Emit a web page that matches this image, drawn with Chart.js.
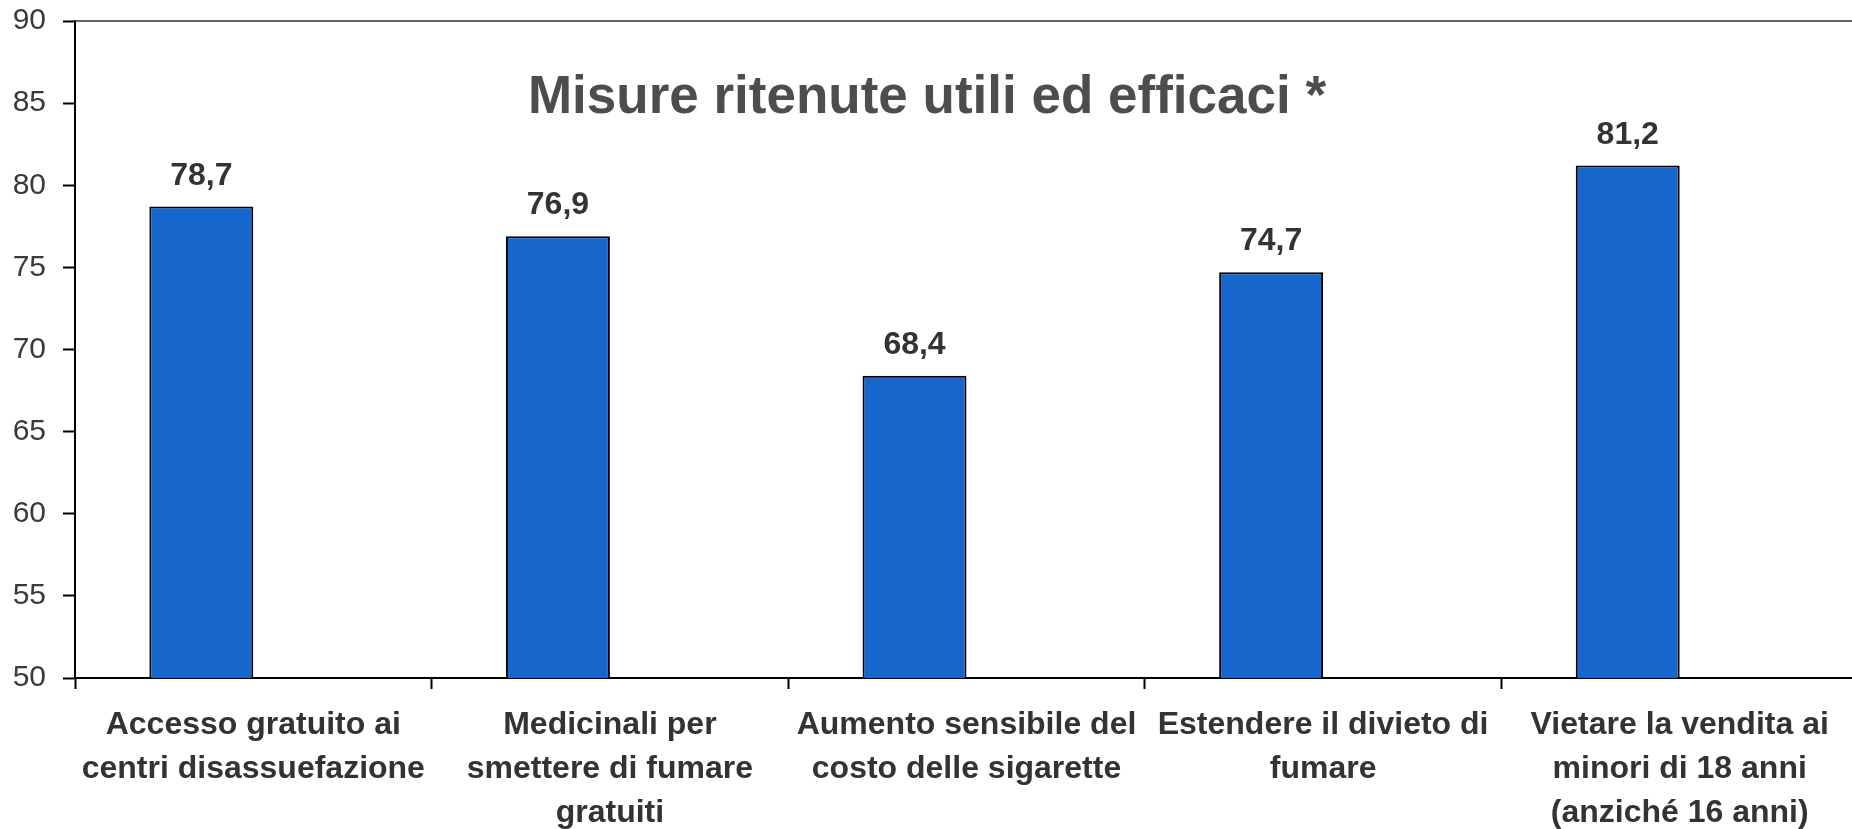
<!DOCTYPE html>
<html lang="it">
<head>
<meta charset="UTF-8">
<title>Misure ritenute utili ed efficaci</title>
<script src="https://cdn.jsdelivr.net/npm/chart.js@4"></script>
<style>
  html, body { margin: 0; padding: 0; background: #fff; overflow: hidden; }
  .wrap { position: relative; width: 1858px; height: 829px; }
</style>
</head>
<body>
<div class="wrap"><canvas id="chart"></canvas></div>
<script>
const chartTitle = 'Misure ritenute utili ed efficaci *';
const categories = [
  ['Accesso gratuito ai', 'centri disassuefazione'],
  ['Medicinali per', 'smettere di fumare', 'gratuiti'],
  ['Aumento sensibile del', 'costo delle sigarette'],
  ['Estendere il divieto di', 'fumare'],
  ['Vietare la vendita ai', 'minori di 18 anni', '(anziché 16 anni)']
];
const values = [78.7, 76.9, 68.4, 74.7, 81.2];
// empty companion series: the original keeps a blank slot to the right of each bar
const blankSeries = [null, null, null, null, null];
const yMin = 50, yMax = 90, yStep = 5;

const FONT = "'Liberation Sans', Arial, sans-serif";

const valueLabels = {
  id: 'valueLabels',
  afterDatasetsDraw(chart) {
    const ctx = chart.ctx;
    const meta = chart.getDatasetMeta(0);
    ctx.save();
    ctx.font = 'bold 32px ' + FONT;
    ctx.fillStyle = '#333333';
    ctx.textAlign = 'center';
    ctx.textBaseline = 'alphabetic';
    meta.data.forEach((bar, i) => {
      ctx.fillText(values[i].toFixed(1).replace('.', ','), bar.x, bar.y - 22);
    });
    ctx.restore();
  }
};

const titleInside = {
  id: 'titleInside',
  afterDraw(chart) {
    const ctx = chart.ctx;
    ctx.save();
    ctx.font = 'bold 53px ' + FONT;
    ctx.fillStyle = '#4d4d4d';
    ctx.textAlign = 'center';
    ctx.textBaseline = 'alphabetic';
    ctx.fillText(chartTitle, 927, 113);
    // top border of the plot
    const a = chart.chartArea;
    ctx.strokeStyle = '#333333';
    ctx.lineWidth = 1.5;
    ctx.beginPath();
    ctx.moveTo(a.left, a.top);
    ctx.lineTo(a.right, a.top);
    ctx.stroke();
    ctx.restore();
  }
};

new Chart(document.getElementById('chart'), {
  type: 'bar',
  data: {
    labels: categories,
    datasets: [
      {
        label: 'Valore',
        data: values,
        backgroundColor: '#1766cb',
        borderColor: '#000000',
        borderWidth: 2,
        categoryPercentage: 0.583,
        barPercentage: 1.0,
      },
      {
        label: '',
        data: blankSeries,
        backgroundColor: 'transparent',
        categoryPercentage: 0.583,
        barPercentage: 1.0,
      }
    ]
  },
  options: {
    responsive: true,
    maintainAspectRatio: false,
    animation: false,
    layout: { padding: { top: 21, right: 0, left: 0, bottom: 0 } },
    plugins: {
      legend: { display: false },
      tooltip: { enabled: false },
      title: { display: false },
    },
    scales: {
      x: {
        afterFit: s => { s.height = 151; },
        border: { color: '#000000', width: 2 },
        grid: { color: 'transparent', tickColor: '#000000', tickLength: 11, tickWidth: 2, offset: true },
        ticks: {
          color: '#333333',
          font: { family: FONT, size: 32, weight: 'bold', lineHeight: 1.38 },
          padding: 14,
          maxRotation: 0,
          autoSkip: false,
        },
      },
      y: {
        min: yMin,
        max: yMax,
        afterFit: s => { s.width = 75; s.paddingTop = 0; s.paddingBottom = 0; },
        border: { color: '#000000', width: 2 },
        grid: {
          color: 'transparent',
          tickColor: '#000000',
          tickLength: 12,
          tickWidth: 2,
        },
        ticks: {
          stepSize: yStep,
          color: '#3a3a3a',
          padding: 17,
          font: { family: FONT, size: 30 },
        },
      },
    },
  },
  plugins: [valueLabels, titleInside],
});
</script>
</body>
</html>
